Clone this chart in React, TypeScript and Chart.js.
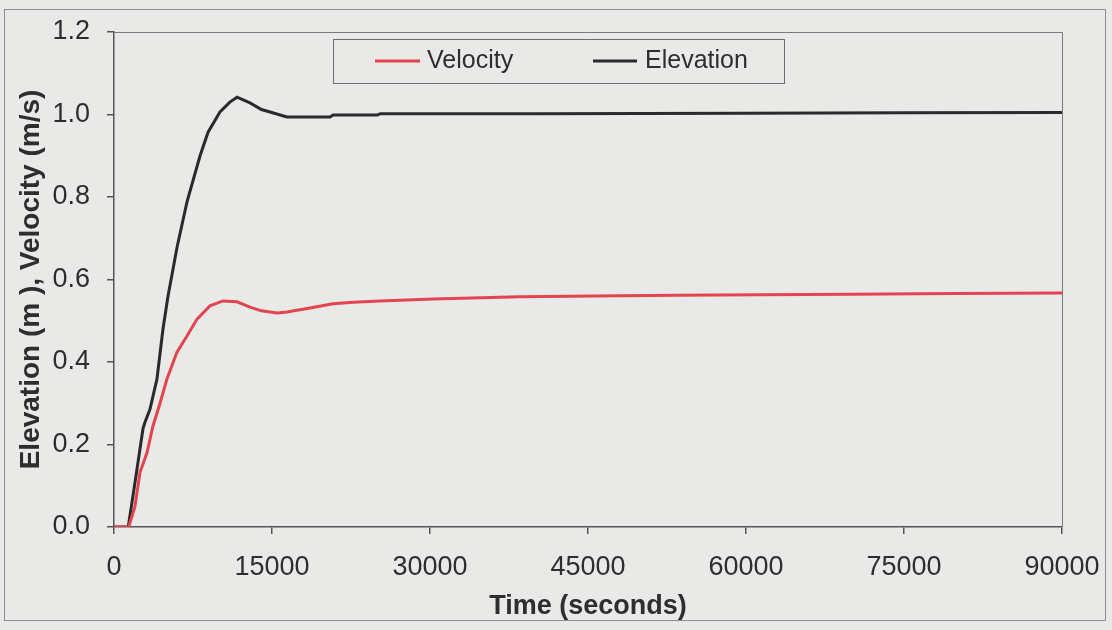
import React, { useEffect, useRef } from "react";
import { Chart, registerables } from "chart.js";

Chart.register(...registerables);

// ---- Data ----
const velocityLabel = "Velocity";
const elevationLabel = "Elevation";

const velocityTime = [0, 1400, 1990, 2470, 3130, 3700, 4370, 5030, 5980, 6930, 7880, 9110, 10350, 11680, 12910, 14000, 15500, 16420, 18610, 20790, 22690, 25250, 30290, 38550, 45480, 53450, 61330, 70000, 80000, 90000];
const velocityValues = [0, 0, 0.05, 0.133, 0.18, 0.245, 0.3, 0.359, 0.424, 0.463, 0.504, 0.536, 0.548, 0.546, 0.533, 0.524, 0.519, 0.521, 0.531, 0.541, 0.545, 0.548, 0.553, 0.558, 0.56, 0.562, 0.563, 0.564, 0.566, 0.567];

const elevationTime = [0, 1350, 1800, 2280, 2750, 2940, 3420, 4080, 4650, 5130, 6000, 6930, 8170, 8930, 10060, 11000, 11680, 12910, 14000, 14810, 16420, 20500, 20800, 25000, 25300, 40000, 60000, 75000, 90000];
const elevationValues = [0, 0, 0.075, 0.157, 0.238, 0.254, 0.286, 0.359, 0.48, 0.56, 0.68, 0.788, 0.9, 0.957, 1.006, 1.03, 1.042, 1.028, 1.012, 1.006, 0.994, 0.994, 0.999, 0.999, 1.002, 1.002, 1.003, 1.004, 1.005];

const xTickMin = 0;
const xTickMax = 90000;
const xTickStep = 15000;
const yTickMin = 0;
const yTickMax = 1.2;
const yTickStep = 0.2;

const xTitle = "Time (seconds)";
const yTitle = "Elevation (m ), Velocity (m/s)";

const velocityColor = "#e5444e";
const elevationColor = "#2a2a2a";
const bgColor = "#e9e9e7";
const textColor = "#2e2e2e";
const FONT = "'Liberation Sans', Arial, Helvetica, sans-serif";

const W = 1112;
const H = 630;
const PAD_LEFT = 6;
const PAD_TOP = 32;
const PAD_RIGHT = 50;
const PAD_BOTTOM = 0;
const PLOT_LEFT = 114;
const PLOT_BOTTOM = 527;

const backgroundPlugin = {
  id: "bgFrame",
  beforeDraw(chart: any) {
    const { ctx } = chart;
    ctx.save();
    ctx.fillStyle = bgColor;
    ctx.fillRect(0, 0, chart.width, chart.height);
    ctx.strokeStyle = "#8e8e8e";
    ctx.lineWidth = 1;
    ctx.strokeRect(4.5, 9.5, 1101, 611);
    ctx.restore();
  },
  beforeDatasetsDraw(chart: any) {
    const { ctx, chartArea } = chart;
    ctx.save();
    ctx.strokeStyle = "#7a7a7a";
    ctx.lineWidth = 1;
    ctx.beginPath();
    ctx.moveTo(chartArea.left, chartArea.top + 0.5);
    ctx.lineTo(chartArea.right + 0.5, chartArea.top + 0.5);
    ctx.lineTo(chartArea.right + 0.5, chartArea.bottom);
    ctx.stroke();
    ctx.restore();
  },
};

const legendPlugin = {
  id: "boxLegend",
  afterDraw(chart: any) {
    const { ctx } = chart;
    const ds = chart.data.datasets;
    ctx.save();
    ctx.fillStyle = bgColor;
    ctx.fillRect(333, 39, 451, 44);
    ctx.strokeStyle = "#6e6e6e";
    ctx.lineWidth = 1;
    ctx.strokeRect(333.5, 39.5, 451, 44);
    const items = [
      { x1: 375, x2: 420, tx: 427 },
      { x1: 593, x2: 637, tx: 645 },
    ];
    ctx.font = `25px ${FONT}`;
    ctx.textBaseline = "middle";
    ctx.textAlign = "left";
    ds.forEach((d: any, i: number) => {
      const it = items[i];
      ctx.strokeStyle = d.borderColor;
      ctx.lineWidth = 3;
      ctx.beginPath();
      ctx.moveTo(it.x1, 61);
      ctx.lineTo(it.x2, 61);
      ctx.stroke();
      ctx.fillStyle = textColor;
      ctx.fillText(d.label, it.tx, 61);
    });
    ctx.restore();
  },
};

export default function App() {
  const canvasRef = useRef<HTMLCanvasElement | null>(null);

  useEffect(() => {
    const canvas = canvasRef.current;
    if (!canvas) return;
    const velocityData = velocityTime.map((t, i) => ({ x: t, y: velocityValues[i] }));
    const elevationData = elevationTime.map((t, i) => ({ x: t, y: elevationValues[i] }));

    const chart = new Chart(canvas, {
      type: "line",
      data: {
        datasets: [
          {
            label: velocityLabel,
            data: velocityData,
            borderColor: velocityColor,
            backgroundColor: velocityColor,
            borderWidth: 3,
            pointRadius: 0,
            tension: 0,
            fill: false,
          },
          {
            label: elevationLabel,
            data: elevationData,
            borderColor: elevationColor,
            backgroundColor: elevationColor,
            borderWidth: 3,
            pointRadius: 0,
            tension: 0,
            fill: false,
          },
        ],
      },
      options: {
        animation: false,
        responsive: false,
        devicePixelRatio: 1,
        layout: {
          padding: { left: PAD_LEFT, top: PAD_TOP, right: PAD_RIGHT, bottom: PAD_BOTTOM },
        },
        plugins: {
          legend: { display: false },
          tooltip: { enabled: false },
        },
        scales: {
          x: {
            type: "linear",
            min: xTickMin,
            max: xTickMax,
            afterFit: (scale: any) => {
              scale.height = H - PAD_BOTTOM - PLOT_BOTTOM;
            },
            ticks: {
              stepSize: xTickStep,
              color: textColor,
              font: { family: FONT, size: 27, lineHeight: 1.6 },
              padding: 12,
              maxRotation: 0,
              autoSkip: false,
              callback: (v: any) => String(v),
            },
            grid: {
              display: true,
              drawOnChartArea: false,
              drawTicks: true,
              tickLength: 7,
              color: "#555555",
              lineWidth: 1.5,
            },
            border: { display: true, color: "#555555", width: 1.5 },
            title: {
              display: true,
              text: xTitle,
              color: textColor,
              font: { family: FONT, size: 27, weight: "bold" },
              padding: { top: 0, bottom: 7 },
            },
          },
          y: {
            type: "linear",
            min: yTickMin,
            max: yTickMax,
            afterFit: (scale: any) => {
              scale.width = PLOT_LEFT - PAD_LEFT;
            },
            ticks: {
              stepSize: yTickStep,
              color: textColor,
              font: { family: FONT, size: 27, lineHeight: 1.0 },
              padding: 17,
              callback: (v: any) => Number(v).toFixed(1),
            },
            grid: {
              display: true,
              drawOnChartArea: false,
              drawTicks: true,
              tickLength: 7,
              color: "#555555",
              lineWidth: 1.5,
            },
            border: { display: true, color: "#555555", width: 1.5 },
            title: {
              display: true,
              text: yTitle,
              color: textColor,
              font: { family: FONT, size: 28, weight: "bold" },
              padding: { top: 8, bottom: 0 },
            },
          },
        },
      } as any,
      plugins: [backgroundPlugin, legendPlugin],
    });

    return () => {
      chart.destroy();
    };
  }, []);

  return (
    <div style={{ position: "absolute", left: 0, top: 0, width: W, height: H, background: bgColor }}>
      <canvas ref={canvasRef} width={W} height={H} style={{ display: "block", width: W, height: H }} />
    </div>
  );
}
